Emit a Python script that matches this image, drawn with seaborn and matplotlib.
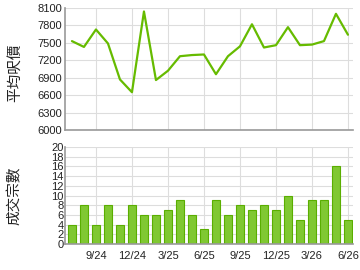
import matplotlib
matplotlib.use("Agg")
import matplotlib.pyplot as plt
import seaborn as sns
import pandas as pd
import numpy as np

months = ["7/24","8/24","9/24","10/24","11/24","12/24","1/25","2/25","3/25","4/25","5/25","6/25",
          "7/25","8/25","9/25","10/25","11/25","12/25","1/26","2/26","3/26","4/26","5/26","6/26"]
avg_price = [7530, 7430, 7730, 7490, 6870, 6650, 8040, 6860, 7020, 7270, 7290, 7300,
             6960, 7270, 7440, 7820, 7420, 7460, 7770, 7460, 7470, 7530, 8000, 7640]
deals = [4, 8, 4, 8, 4, 8, 6, 6, 7, 9, 6, 3, 9, 6, 8, 7, 8, 7, 10, 5, 9, 9, 16, 5]
tick_labels = ["9/24", "12/24", "3/25", "6/25", "9/25", "12/25", "3/26", "6/26"]
price_ticks = [6000, 6300, 6600, 6900, 7200, 7500, 7800, 8100]
deal_ticks = [0, 2, 4, 6, 8, 10, 12, 14, 16, 18, 20]

sns.set_theme(style="white")
plt.rcParams['font.family'] = ['Liberation Sans', 'Noto Sans CJK TC', 'DejaVu Sans']

df = pd.DataFrame({"idx": np.arange(len(months)), "month": months,
                   "price": avg_price, "deals": deals})

fig = plt.figure(figsize=(3.6, 2.7), dpi=100)
ax1 = fig.add_axes([65/360, 1-130/270, 288/360, 122/270])
ax2 = fig.add_axes([65/360, 1-244/270, 288/360, 97/270])

xlim = (-0.58, 23.42)
tick_pos = [months.index(t) for t in tick_labels]

sns.lineplot(data=df, x="idx", y="price", ax=ax1, color="#66bb00", linewidth=1.6)
ax1.set_xlim(xlim)
ax1.set_ylim(6000, 8100)
ax1.set_yticks(price_ticks)
ax1.set_xticks(tick_pos)
ax1.set_xticklabels([])
ax1.set_xlabel("")
ax1.set_ylabel("平均呎價", family=['Noto Sans CJK TC'], fontsize=10.5)
ax1.yaxis.set_label_coords(-43/288, 0.47)

sns.barplot(data=df, x="idx", y="deals", ax=ax2, color="#80c832", width=0.72,
            edgecolor="#5aae00", linewidth=0.8, saturation=1, native_scale=True)
ax2.set_xlim(xlim)
ax2.set_ylim(0, 20)
ax2.set_yticks(deal_ticks)
ax2.set_xticks(tick_pos)
ax2.set_xticklabels(tick_labels)
ax2.set_xlabel("")
ax2.set_ylabel("成交宗數", family=['Noto Sans CJK TC'], fontsize=10.5)
ax2.yaxis.set_label_coords(-43/288, 0.5)

for ax in (ax1, ax2):
    ax.grid(True, color="#dddddd", linewidth=0.8)
    ax.set_axisbelow(True)
    for s in ("top", "right"):
        ax.spines[s].set_visible(False)
    for s in ("left", "bottom"):
        ax.spines[s].set_color("#999999")
        ax.spines[s].set_linewidth(1.2)
    ax.tick_params(axis="both", labelsize=8, colors="#222222", length=0, pad=2)
ax2.tick_params(axis="x", length=3, color="#999999", pad=2)
ax1.yaxis.label.set_color("#222222")
ax2.yaxis.label.set_color("#222222")
ax2.tick_params(axis="y", pad=1)

fig.savefig("out.png", dpi=100)
